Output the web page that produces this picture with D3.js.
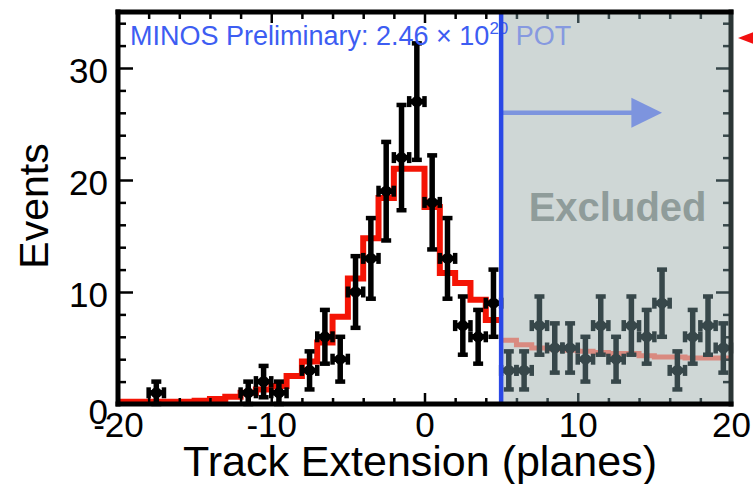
<!DOCTYPE html>
<html><head><meta charset="utf-8">
<script src="https://cdn.jsdelivr.net/npm/d3@7/dist/d3.min.js"></script>
<style>
body{margin:0;background:#fff}
svg{display:block}
text{font-family:"Liberation Sans",Arial,Helvetica,sans-serif}
</style>
</head><body>
<svg id="chart" width="753" height="484"></svg>
<script>
// ---- data ----
const binCenters = [-17.5, -11.5, -10.5, -9.5, -7.5, -6.5, -5.5, -4.5, -3.5, -2.5, -1.5, -0.5, 0.5, 1.5, 2.5, 3.5, 4.5,
                    5.5, 6.5, 7.5, 8.5, 9.5, 10.5, 11.5, 12.5, 13.5, 14.5, 15.5, 16.5, 17.5, 18.5, 19.5];
const dataCounts = [1, 1, 2, 1, 3, 6, 4, 10, 13, 19, 22, 27, 18, 13, 7, 6, 9,
                    3, 3, 7, 5, 5, 4, 7, 4, 7, 6, 9, 3, 6, 7, 5];
const dataErrors = [1, 1, 1.4, 1, 1.7, 2.4, 2, 3.2, 3.6, 4.4, 4.7, 5.2, 4.2, 3.6, 2.6, 2.4, 3,
                    1.7, 1.7, 2.6, 2.2, 2.2, 2, 2.6, 2, 2.6, 2.4, 3, 1.7, 2.4, 2.6, 2.2];
const mcLowEdges = [-20, -19, -18, -17, -16, -15, -14, -13, -12, -11, -10, -9, -8, -7, -6, -5, -4, -3, -2, -1,
                    0, 1, 2, 3, 4, 5, 6, 7, 8, 9, 10, 11, 12, 13, 14, 15, 16, 17, 18, 19];
const mcCounts = [0.2, 0.2, 0.2, 0.2, 0.2, 0.3, 0.45, 0.65, 1.0, 1.3, 1.6, 2.5, 3.8, 5.5, 7.8, 11.2, 14.8, 18.4, 21, 21,
                  17.6, 11.7, 10.8, 9.3, 7.5, 5.7, 5.3, 5.0, 4.9, 4.8, 4.7, 4.6, 4.5, 4.5, 4.3, 4.2, 4.2, 4.1, 4.1, 4.1];
const binWidth = 1;
const cutValue = 5;
const xMajorTicks = [-20, -10, 0, 10, 20];
const xMinorTicks = [-18, -16, -14, -12, -8, -6, -4, -2, 2, 4, 6, 8, 12, 14, 16, 18];
const yMajorTicks = [0, 10, 20, 30];
const yMinorTicks = [2, 4, 6, 8, 12, 14, 16, 18, 22, 24, 26, 28, 32, 34];
const xTitle = "Track Extension (planes)";
const yTitle = "Events";
const labelMain = "MINOS Preliminary: 2.46 \u00d7 10";
const labelSup = "20";
const labelTail = " POT";
const excludedLabel = "Excluded";

// ---- styles ----
const RED = "#f41405", PINK = "#d98a80", SLATE = "#37474a", GRAYBG = "#cfd7d6";
const BLUE = "#2a48e6", TEXTBLUE = "#3d5df2", ARROWBLUE = "#7d94de";

const svg = d3.select("#chart");
const x = d3.scaleLinear().domain([-20, 20]).range([118, 731]);
const y = d3.scaleLinear().domain([0, 35]).range([404, 12]);
const X0 = x.range()[0], X1 = x.range()[1], Y0 = y.range()[0], Y1 = y.range()[1];

// excluded region background
svg.append("rect").attr("x", x(cutValue)).attr("y", Y1)
  .attr("width", x(20) - x(cutValue)).attr("height", Y0 - Y1).attr("fill", GRAYBG);

// MC histogram
const mcPts = mcLowEdges.map((e, i) => ({e, v: mcCounts[i]}));
const stepLine = d3.line().x(d => x(d.e)).y(d => y(d.v)).curve(d3.curveStepAfter);
const left = mcPts.filter(d => d.e < cutValue);
left.push({e: cutValue, v: left[left.length - 1].v});
const right = mcPts.filter(d => d.e >= cutValue);
right.push({e: 20, v: right[right.length - 1].v});
svg.append("path").attr("d", stepLine(right)).attr("fill", "none")
  .attr("stroke", PINK).attr("stroke-width", 5);
svg.append("path").attr("d", stepLine(left)).attr("fill", "none")
  .attr("stroke", RED).attr("stroke-width", 6);

// data points
const pts = binCenters.map((c, i) => ({c, v: dataCounts[i], e: dataErrors[i]}));
const pg = svg.append("g");
pts.forEach(d => {
  const col = d.c > cutValue ? SLATE : "#000";
  const g = pg.append("g").attr("stroke", col).attr("fill", col);
  const cx = x(d.c), cy = y(d.v);
  const xl = x(d.c - binWidth / 2), xr = x(d.c + binWidth / 2);
  const yt = y(d.v + d.e), yb = y(Math.max(0, d.v - d.e));
  g.append("line").attr("x1", cx).attr("x2", cx).attr("y1", yt).attr("y2", yb).attr("stroke-width", 5.5);
  g.append("line").attr("x1", cx - 5).attr("x2", cx + 5).attr("y1", yt).attr("y2", yt).attr("stroke-width", 4.5);
  g.append("line").attr("x1", cx - 5).attr("x2", cx + 5).attr("y1", yb).attr("y2", yb).attr("stroke-width", 4.5);
  g.append("line").attr("x1", xl).attr("x2", xr).attr("y1", cy).attr("y2", cy).attr("stroke-width", 5.5);
  g.append("line").attr("x1", xl).attr("x2", xl).attr("y1", cy - 5.5).attr("y2", cy + 5.5).attr("stroke-width", 4.5);
  g.append("line").attr("x1", xr).attr("x2", xr).attr("y1", cy - 5.5).attr("y2", cy + 5.5).attr("stroke-width", 4.5);
  g.append("circle").attr("cx", cx).attr("cy", cy).attr("r", 5.5).attr("stroke", "none");
});

// labels
const t = svg.append("text").attr("x", 130).attr("y", 45).attr("font-size", 27).attr("fill", TEXTBLUE);
t.append("tspan").text(labelMain);
t.append("tspan").attr("dy", -11).attr("font-size", 17).text(labelSup);
t.append("tspan").attr("dy", 11).attr("fill", "#8699e0").text(labelTail);

svg.append("text").attr("x", x(12.6)).attr("y", y(16.3)).attr("text-anchor", "middle")
  .attr("font-size", 40).attr("font-weight", "bold").attr("fill", "#8f9c9a").text(excludedLabel);

// arrow
svg.append("line").attr("x1", x(cutValue)).attr("x2", x(13.6)).attr("y1", y(26)).attr("y2", y(26))
  .attr("stroke", ARROWBLUE).attr("stroke-width", 4.5);
svg.append("path")
  .attr("d", `M${x(13.5)},${y(26) - 15}L${x(15.5)},${y(26)}L${x(13.5)},${y(26) + 15}Z`)
  .attr("fill", ARROWBLUE);

// cut line
svg.append("line").attr("x1", x(cutValue)).attr("x2", x(cutValue)).attr("y1", Y1).attr("y2", Y0)
  .attr("stroke", BLUE).attr("stroke-width", 4.5);

// axes
function styleAxis(g, colorFn) {
  g.select(".domain").remove();
  g.selectAll(".tick line").attr("stroke-width", 2.5).attr("stroke", colorFn);
  g.selectAll("text").attr("font-size", 35).attr("fill", "#000").attr("font-family", '"Liberation Sans",Arial,sans-serif');
}
const exCol = d => d > cutValue ? SLATE : "#000";
const fmt = d => String(d);

const gl = svg.append("g").attr("transform", `translate(${X0},0)`)
  .call(d3.axisLeft(y).tickValues(yMajorTicks).tickSize(-15).tickPadding(10).tickFormat(fmt));
styleAxis(gl, "#000");
gl.selectAll("text").attr("dy", d => d === 0 ? "0.55em" : "0.42em");
const glm = svg.append("g").attr("transform", `translate(${X0},0)`)
  .call(d3.axisLeft(y).tickValues(yMinorTicks).tickSize(-8).tickFormat(""));
styleAxis(glm, "#000");

const gr = svg.append("g").attr("transform", `translate(${X1},0)`)
  .call(d3.axisRight(y).tickValues(yMajorTicks).tickSize(-15).tickFormat(""));
styleAxis(gr, SLATE);
const grm = svg.append("g").attr("transform", `translate(${X1},0)`)
  .call(d3.axisRight(y).tickValues(yMinorTicks).tickSize(-8).tickFormat(""));
styleAxis(grm, SLATE);

const gb = svg.append("g").attr("transform", `translate(0,${Y0})`)
  .call(d3.axisBottom(x).tickValues(xMajorTicks).tickSize(-11).tickPadding(8).tickFormat(fmt));
styleAxis(gb, exCol);
const gbm = svg.append("g").attr("transform", `translate(0,${Y0})`)
  .call(d3.axisBottom(x).tickValues(xMinorTicks).tickSize(-6).tickFormat(""));
styleAxis(gbm, exCol);

const gt = svg.append("g").attr("transform", `translate(0,${Y1})`)
  .call(d3.axisTop(x).tickValues(xMajorTicks).tickSize(-11).tickFormat(""));
styleAxis(gt, exCol);
const gtm = svg.append("g").attr("transform", `translate(0,${Y1})`)
  .call(d3.axisTop(x).tickValues(xMinorTicks).tickSize(-7).tickFormat(""));
styleAxis(gtm, exCol);

// frame
const frame = svg.append("g").attr("stroke-width", 5).attr("stroke-linecap", "square");
frame.append("line").attr("x1", X1).attr("x2", X1).attr("y1", Y1).attr("y2", Y0).attr("stroke", "#2b3535");
frame.append("line").attr("x1", X0).attr("x2", X1).attr("y1", Y1).attr("y2", Y1).attr("stroke", "#000");
frame.append("line").attr("x1", X0).attr("x2", X1).attr("y1", Y0).attr("y2", Y0).attr("stroke", "#000");
frame.append("line").attr("x1", X0).attr("x2", X0).attr("y1", Y1).attr("y2", Y0).attr("stroke", "#000");

// axis titles
svg.append("text").attr("x", 420).attr("y", 476).attr("text-anchor", "middle")
  .attr("font-size", 43).attr("fill", "#000").text(xTitle);
svg.append("text").attr("transform", "translate(48,206) rotate(-90)").attr("text-anchor", "middle")
  .attr("font-size", 41).attr("fill", "#000").text(yTitle);

// red marker outside at top right
svg.append("path").attr("d", "M738,38L760,29.5L760,46.5Z").attr("fill", "#f21010");
</script>
</body></html>
